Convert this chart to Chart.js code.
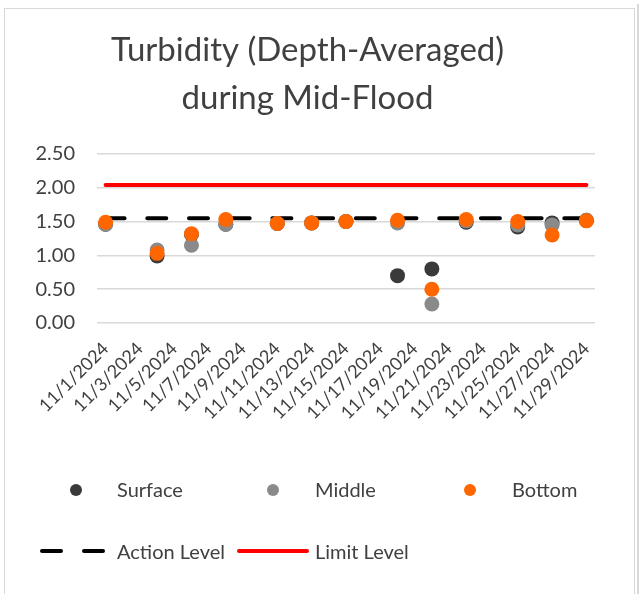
<!DOCTYPE html>
<html>
<head>
<meta charset="utf-8">
<script src="https://cdn.jsdelivr.net/npm/chart.js@4"></script>
<style>
  body { margin: 0; background: #fff; font-family: Lato, sans-serif; }
  #wrap { position: relative; width: 644px; height: 594px; overflow: hidden; }
  #frame { position: absolute; left: 4px; top: 8px; width: 629px; height: 600px; border: 1.5px solid #d9d9d9; }
  #edge { position: absolute; left: 637px; top: 4px; width: 1.5px; height: 600px; background: #d9d9d9; }
  #chart-box { position: absolute; left: 0; top: 0; width: 644px; height: 594px; }
  .lg { position: absolute; color: #404040; font-size: 20px; line-height: 20px; white-space: nowrap; }
  .dot { position: absolute; width: 12px; height: 12px; border-radius: 50%; }
  .bar { position: absolute; height: 4.5px; border-radius: 2.25px; }
</style>
</head>
<body>
<div id="wrap">
  <div id="frame"></div>
  <div id="edge"></div>
  <div id="chart-box"><canvas id="turbChart"></canvas></div>
  <div id="legend"></div>
</div>
<script>
const allDates = [
  "11/1/2024", "11/2/2024", "11/3/2024", "11/4/2024", "11/5/2024", "11/6/2024",
  "11/7/2024", "11/8/2024", "11/9/2024", "11/10/2024", "11/11/2024", "11/12/2024",
  "11/13/2024", "11/14/2024", "11/15/2024", "11/16/2024", "11/17/2024", "11/18/2024",
  "11/19/2024", "11/20/2024", "11/21/2024", "11/22/2024", "11/23/2024", "11/24/2024",
  "11/25/2024", "11/26/2024", "11/27/2024", "11/28/2024", "11/29/2024"
];
const sampleDates = [
  "11/1/2024", "11/4/2024", "11/6/2024", "11/8/2024", "11/11/2024", "11/13/2024",
  "11/15/2024", "11/18/2024", "11/20/2024", "11/22/2024", "11/25/2024", "11/27/2024",
  "11/29/2024"
];
const surface = [1.46, 0.99, 1.31, 1.46, 1.47, 1.48, 1.50, 0.70, 0.80, 1.49, 1.42, 1.48, 1.52];
const middle  = [1.46, 1.08, 1.15, 1.46, 1.47, 1.48, 1.50, 1.48, 0.28, 1.51, 1.45, 1.45, 1.52];
const bottom  = [1.49, 1.03, 1.32, 1.53, 1.47, 1.48, 1.50, 1.52, 0.50, 1.53, 1.50, 1.30, 1.51];
const levelDates = ["11/1/2024", "11/29/2024"];
const actionLevel = [1.55, 1.55];
const limitLevel = [2.04, 2.04];
const yTicks = [0, 0.5, 1, 1.5, 2, 2.5];

const textColor = "#404040";

function pairs(dates, values) {
  return dates.map((d, i) => ({ x: d, y: values[i] }));
}

function pointSet(label, values, color, order) {
  return {
    label: label,
    data: pairs(sampleDates, values),
    showLine: false,
    pointRadius: 7.5,
    pointBorderWidth: 0,
    pointBackgroundColor: color,
    pointBorderColor: color,
    order: order,
  };
}

const ctx = document.getElementById("turbChart").getContext("2d");

new Chart(ctx, {
  type: "line",
  data: {
    labels: allDates,
    datasets: [
      pointSet("Surface", surface, "#3a3a3a", 3),
      pointSet("Middle", middle, "#8a8a8a", 2),
      pointSet("Bottom", bottom, "#ff6600", 1),
      {
        label: "Action Level",
        data: pairs(levelDates, actionLevel),
        borderColor: "#000000",
        borderWidth: 4,
        borderDash: [19, 22.7],
        borderCapStyle: "round",
        pointRadius: 0,
        spanGaps: true,
        order: 5,
      },
      {
        label: "Limit Level",
        data: pairs(levelDates, limitLevel),
        borderColor: "#ff0000",
        borderWidth: 4,
        borderCapStyle: "round",
        pointRadius: 0,
        spanGaps: true,
        order: 4,
      },
    ],
  },
  options: {
    responsive: true,
    maintainAspectRatio: false,
    animation: false,
    events: [],
    layout: {
      padding: { left: 20, right: 49, top: 0, bottom: 151 },
    },
    plugins: {
      legend: { display: false },
      tooltip: { enabled: false },
      title: {
        display: true,
        text: ["Turbidity (Depth-Averaged)", "during Mid-Flood"],
        color: textColor,
        font: { family: "Lato", size: 33, weight: "normal", lineHeight: "47.7px" },
        padding: { top: 26.5, bottom: 32 },
      },
    },
    scales: {
      x: {
        type: "category",
        offset: true,
        grid: { display: false, drawTicks: false },
        border: { display: false },
        ticks: {
          autoSkip: false,
          maxRotation: 45,
          minRotation: 45,
          padding: 15,
          color: textColor,
          font: { family: "Lato", size: 18 },
          callback: function (value, index) {
            return index % 2 === 0 ? this.getLabelForValue(value) : "";
          },
        },
        afterFit: (scale) => {
          scale.height = 120;
        },
      },
      y: {
        min: 0,
        max: 2.5,
        afterBuildTicks: (scale) => {
          scale.ticks = yTicks.map((v) => ({ value: v }));
        },
        grid: { color: "#d9d9d9", lineWidth: 1.5, drawTicks: false },
        border: { display: false },
        ticks: {
          padding: 22,
          color: textColor,
          font: { family: "Lato", size: 20 },
          callback: (value) => value.toFixed(2),
        },
        afterFit: (scale) => {
          scale.width = 77;
        },
      },
    },
  },
});

// legend placed like the original, under the plot
const legendItems = [
  { label: "Surface", kind: "dot", color: "#3a3a3a", mx: 76, tx: 117, y: 489.5 },
  { label: "Middle", kind: "dot", color: "#8a8a8a", mx: 272.5, tx: 315, y: 489.5 },
  { label: "Bottom", kind: "dot", color: "#ff6600", mx: 470, tx: 512, y: 489.5 },
  { label: "Action Level", kind: "dash", color: "#000000", mx: 40, tx: 117, y: 551 },
  { label: "Limit Level", kind: "line", color: "#ff0000", mx: 237, tx: 315, y: 551 },
];
const legendEl = document.getElementById("legend");
legendItems.forEach((item) => {
  if (item.kind === "dot") {
    const d = document.createElement("span");
    d.className = "dot";
    d.style.background = item.color;
    d.style.left = item.mx - 6 + "px";
    d.style.top = item.y - 6 + "px";
    legendEl.appendChild(d);
  } else if (item.kind === "dash") {
    [0, 42].forEach((off) => {
      const b = document.createElement("span");
      b.className = "bar";
      b.style.background = item.color;
      b.style.left = item.mx + off + "px";
      b.style.width = "23px";
      b.style.top = item.y - 2.25 + "px";
      legendEl.appendChild(b);
    });
  } else {
    const b = document.createElement("span");
    b.className = "bar";
    b.style.background = item.color;
    b.style.left = item.mx + "px";
    b.style.width = "72px";
    b.style.top = item.y - 2.25 + "px";
    legendEl.appendChild(b);
  }
  const t = document.createElement("span");
  t.className = "lg";
  t.textContent = item.label;
  t.style.left = item.tx + "px";
  t.style.top = item.y - 10.5 + "px";
  legendEl.appendChild(t);
});
</script>
</body>
</html>
